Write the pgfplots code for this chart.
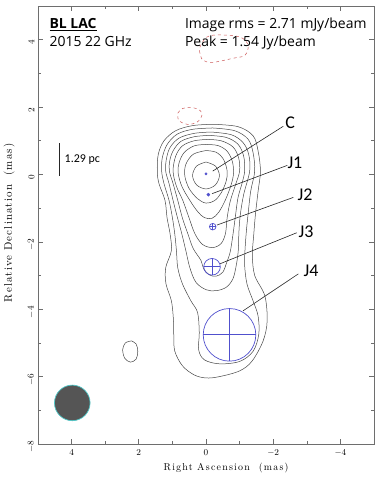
\documentclass[border=0pt]{standalone}
\usepackage{fontspec}
\usepackage{pgfplots}
\pgfplotsset{compat=1.18}
\newfontfamily\osans{Open Sans}
\newfontfamily\carl{Carlito}
\newfontfamily\lmx[LetterSpace=12]{Latin Modern Roman}
\newfontfamily\lmy[LetterSpace=10]{Latin Modern Roman}
\definecolor{cline}{RGB}{70,70,70}
\definecolor{cblue}{RGB}{80,80,205}
\definecolor{cred}{RGB}{205,90,90}
\definecolor{beamfill}{RGB}{85,85,85}
\definecolor{beamedge}{RGB}{80,200,200}
\definecolor{axgray}{RGB}{110,110,110}
\pgfplotsset{cont/.style={cline, line width=0.5bp, smooth, tension=0.55, mark=none},
  lead/.style={black!85, line width=0.6bp, mark=none},
  ring/.style={only marks, mark=o, draw=cblue, mark options={draw=cblue, line width=0.7bp}},
  cross/.style={only marks, mark=+, draw=cblue, mark options={draw=cblue, line width=0.7bp}}}
\tikzset{lab/.style={anchor=base west, inner sep=0pt, font=\carl\fontsize{18}{18}\selectfont}}
\begin{document}
\begin{tikzpicture}
\useasboundingbox (-38bp,-33bp) rectangle (344bp,444bp);
\begin{axis}[
  scale only axis, width=336bp, height=438bp,
  xmin=-5, xmax=5, ymin=-8, ymax=5, x dir=reverse,
  clip=false,
  xtick={-4,-2,...,4}, ytick={-8,-6,...,4},
  minor xtick={-5,-3,...,5}, minor ytick={-7,-5,...,5},
  tick align=inside, major tick length=5bp, minor tick length=3bp,
  axis line style={axgray, line width=0.6bp},
  every tick/.style={axgray, line width=0.6bp},
  xticklabel style={font=\fontsize{9}{9}\selectfont, yshift=-2bp},
  yticklabel style={font=\fontsize{9}{9}\selectfont, rotate=90, anchor=south, xshift=-3bp},
  xlabel={Right Ascension~~(mas)},
  ylabel={Relative Declination~~(mas)},
  xlabel style={font=\lmx\fontsize{10}{10}\selectfont, at={(axis description cs:0.56,-0.0616)}, anchor=base},
  ylabel style={font=\lmy\fontsize{11}{11}\selectfont, at={(axis description cs:-0.0774,0.505)}, anchor=base},
]
% contours
\addplot[cont] coordinates {(0,0.37)(0.28,0.25)(0.4,-0.03)(0.28,-0.31)(0,-0.43)(-0.28,-0.31)(-0.4,-0.03)(-0.28,0.25)(0,0.37)};
\addplot[cont] coordinates {(0,0.71)(0.38,0.6)(0.6,0.3)(0.63,-0.05)(0.5,-0.42)(0.25,-0.72)(0,-0.85)(-0.25,-0.78)(-0.45,-0.55)(-0.6,-0.2)(-0.63,0.1)(-0.52,0.45)(-0.3,0.66)(0,0.71)};
\addplot[cont] coordinates {(0,0.89)(0.35,0.85)(0.65,0.65)(0.8,0.35)(0.83,0.05)(0.72,-0.35)(0.48,-0.77)(0.25,-1.1)(0.05,-1.28)(-0.18,-1.3)(-0.38,-1.12)(-0.58,-0.75)(-0.75,-0.3)(-0.82,0.05)(-0.78,0.4)(-0.62,0.7)(-0.35,0.86)(0,0.89)};
\addplot[cont] coordinates {(-0.05,1.04)(0.35,1.0)(0.7,0.85)(0.9,0.55)(0.98,0.1)(0.88,-0.35)(0.69,-0.77)(0.5,-1.3)(0.33,-1.76)(0.1,-2.08)(-0.2,-2.17)(-0.45,-2.05)(-0.58,-1.75)(-0.63,-1.28)(-0.72,-0.8)(-0.88,-0.3)(-1.0,0.1)(-0.97,0.5)(-0.8,0.82)(-0.45,1.0)(-0.05,1.04)};
\addplot[cont] coordinates {(-0.1,1.16)(0.35,1.12)(0.75,0.98)(0.98,0.7)(1.08,0.4)(1.09,0.1)(0.98,-0.27)(0.84,-0.77)(0.7,-1.3)(0.54,-1.76)(0.38,-2.2)(0.15,-2.55)(0.07,-2.8)(-0.1,-2.98)(-0.3,-3.02)(-0.5,-2.9)(-0.62,-2.6)(-0.72,-2.3)(-0.8,-1.8)(-0.87,-1.28)(-0.95,-0.7)(-1.07,-0.27)(-1.15,0.1)(-1.12,0.55)(-0.95,0.9)(-0.6,1.1)(-0.1,1.16)};
\addplot[cont] coordinates {(-0.15,1.26)(0.35,1.22)(0.8,1.08)(1.07,0.8)(1.18,0.45)(1.2,0.1)(1.1,-0.27)(0.98,-0.77)(0.85,-1.28)(0.72,-1.76)(0.6,-2.26)(0.48,-2.77)(0.3,-3.2)(0.0,-3.42)(-0.3,-3.45)(-0.6,-3.35)(-0.8,-3.1)(-0.9,-2.7)(-0.96,-2.26)(-0.98,-1.7)(-1.02,-1.2)(-1.12,-0.6)(-1.3,0.1)(-1.27,0.6)(-1.1,0.95)(-0.75,1.18)(-0.15,1.26)};
\addplot[cont] coordinates {(-0.2,1.38)(0.4,1.34)(0.85,1.2)(1.15,0.9)(1.3,0.5)(1.32,0.1)(1.25,-0.27)(1.1,-0.77)(1.0,-1.28)(0.93,-1.76)(0.88,-2.26)(0.84,-2.77)(0.7,-3.25)(0.45,-3.75)(0.25,-4.1)(0.2,-4.7)(0.22,-5.2)(0.05,-5.5)(-0.4,-5.62)(-1.0,-5.55)(-1.4,-5.25)(-1.57,-4.75)(-1.55,-4.2)(-1.4,-3.75)(-1.22,-3.25)(-1.15,-2.7)(-1.16,-2.26)(-1.2,-1.7)(-1.25,-1.2)(-1.33,-0.5)(-1.45,0.1)(-1.4,0.65)(-1.25,1.05)(-0.85,1.3)(-0.2,1.38)};
\addplot[cont] coordinates {(-0.2,1.49)(0.4,1.45)(0.9,1.3)(1.25,1.0)(1.42,0.6)(1.45,0.1)(1.4,-0.27)(1.22,-0.77)(1.16,-1.28)(1.07,-1.76)(1.03,-2.26)(1.2,-2.77)(1.19,-3.25)(1.03,-3.75)(0.97,-4.3)(0.96,-4.73)(0.93,-5.24)(0.7,-5.68)(0.35,-5.95)(0,-6.04)(-0.4,-6.0)(-1.0,-5.83)(-1.37,-5.54)(-1.7,-4.94)(-1.82,-4.35)(-1.75,-3.6)(-1.45,-3.0)(-1.38,-2.4)(-1.42,-1.8)(-1.47,-1.2)(-1.55,-0.5)(-1.62,0.1)(-1.55,0.7)(-1.4,1.15)(-0.95,1.42)(-0.2,1.49)};
% isolated contour
\addplot[cont] coordinates {(2.22,-4.94)(2.4,-5.0)(2.48,-5.2)(2.42,-5.45)(2.25,-5.57)(2.08,-5.48)(2.03,-5.25)(2.08,-5.03)(2.22,-4.94)};
% negative contours
\addplot[cred, dashed, line width=0.5bp, smooth, tension=0.6, mark=none] coordinates {(0.18,3.6)(0.18,3.78)(-0.03,4.08)(-0.42,4.14)(-1.01,4.08)(-1.25,3.84)(-1.16,3.54)(-0.81,3.45)(-0.21,3.33)(0.09,3.39)(0.18,3.6)};
\addplot[cred, dashed, line width=0.5bp, smooth, tension=0.6, mark=none] coordinates {(0.84,1.82)(0.69,1.96)(0.42,1.99)(0.18,1.9)(0.12,1.76)(0.27,1.55)(0.57,1.49)(0.81,1.61)(0.84,1.82)};
% model components
\addplot[only marks, mark=*, mark size=1.2bp, color=cblue] coordinates {(0,0.02)};
\addplot[only marks, mark=*, mark size=1.6bp, color=cblue] coordinates {(-0.07,-0.6)};
\addplot[ring, mark size=3.3bp] coordinates {(-0.2,-1.55)};
\addplot[cross, mark size=3.3bp] coordinates {(-0.2,-1.55)};
\addplot[ring, mark size=8.3bp] coordinates {(-0.18,-2.74)};
\addplot[cross, mark size=8.3bp] coordinates {(-0.18,-2.74)};
\addplot[ring, mark size=26.3bp] coordinates {(-0.7,-4.76)};
\addplot[cross, mark size=26.3bp] coordinates {(-0.7,-4.76)};
% beam
\addplot[only marks, mark=*, mark size=17.8bp, mark options={fill=beamfill, draw=beamedge, line width=0.7bp}] coordinates {(3.98,-6.78)};
% scale bar
\addplot[black!85, line width=1.6bp, mark=none] coordinates {(4.36,0.92)(4.36,-0.06)};
\node[anchor=base west, font=\carl\fontsize{12}{12}\selectfont, inner sep=0pt] at (axis cs:4.21,0.36) {1.29 pc};
% leader lines
\addplot[lead] coordinates {(-2.3,1.43)(-0.2,0.1)};
\addplot[lead] coordinates {(-2.42,0.27)(-0.18,-0.57)};
\addplot[lead] coordinates {(-2.6,-0.68)(-0.33,-1.5)};
\addplot[lead] coordinates {(-2.7,-1.73)(-0.42,-2.65)};
\addplot[lead] coordinates {(-2.75,-2.95)(-1.1,-4.05)};
\node[lab] at (axis cs:-2.36,1.37) {C};
\node[lab] at (axis cs:-2.42,0.18) {J1};
\node[lab] at (axis cs:-2.72,-0.77) {J2};
\node[lab] at (axis cs:-2.75,-1.88) {J3};
\node[lab] at (axis cs:-2.9,-3.04) {J4};
% header texts
\node[anchor=base west, inner sep=0pt, font=\osans\fontsize{14}{14}\selectfont] at (axis cs:4.66,4.32) {\underline{\textbf{BL LAC}}};
\node[anchor=base west, inner sep=0pt, font=\osans\fontsize{14}{14}\selectfont] at (axis cs:4.66,3.81) {2015 22 GHz};
\node[anchor=base west, inner sep=0pt, font=\osans\fontsize{14}{14}\selectfont] at (axis cs:0.63,4.32) {Image rms = 2.71 mJy/beam};
\node[anchor=base west, inner sep=0pt, font=\osans\fontsize{14}{14}\selectfont] at (axis cs:0.63,3.81) {Peak = 1.54 Jy/beam};
\end{axis}
\end{tikzpicture}
\end{document}
